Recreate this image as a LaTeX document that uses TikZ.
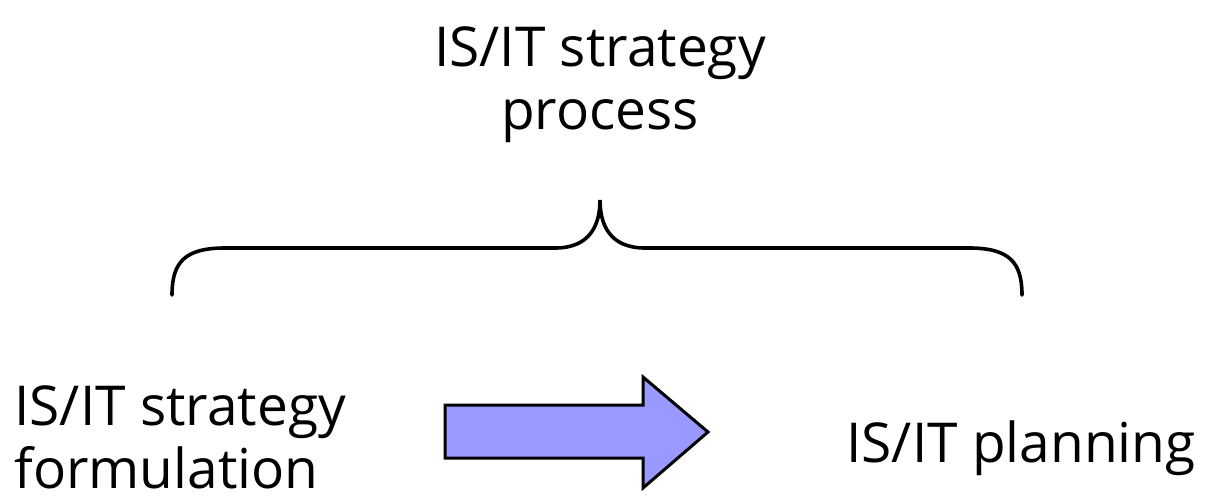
\documentclass[tikz,border=0pt]{standalone}
\usepackage{fontspec}
\setmainfont{Open Sans}
\usetikzlibrary{positioning}
\tikzset{
  label text/.style={align=center, inner sep=0pt, font=\fontsize{27.5}{31.5}\selectfont},
  fat arrow/.style={draw=black, line width=1.5pt, fill={rgb,255:red,153;green,153;blue,255}, line join=miter},
  brace line/.style={line width=1.8pt, line cap=round}
}
\begin{document}
\begin{tikzpicture}[x=0.5pt, y=-0.5pt]
 \useasboundingbox (0,0) rectangle (1211,499);

 % label over the brace
 \node[label text, anchor=base] (process) at (600,129) {IS/IT strategy\\process};

 % curly brace
 \coordinate (braceL) at (172,295);
 \coordinate (braceR) at (1022,295);
 \coordinate (braceTip) at (600,200);
 \draw[brace line] (braceL) .. controls (172,262) and (185,248) .. (225,248)
   -- (555,248) .. controls (590,248) and (600,225) .. (braceTip)
   .. controls (600,225) and (610,248) .. (645,248)
   -- (969,248) .. controls (1009,248) and (1022,262) .. (braceR);

 % the two steps
 \node[label text, anchor=base west] (formulation) at (14,425) {IS/IT strategy};
 \node[label text, anchor=base west] (formulation2) at (14,488) {formulation};
 \node[label text, anchor=base east] (planning) at (1196,462) {IS/IT planning};

 % block arrow between them
 \draw[fat arrow] (445,405) -- (643,405) -- (643,377) -- (708,432)
   -- (643,488) -- (643,458) -- (445,458) -- cycle;
\end{tikzpicture}
\end{document}
